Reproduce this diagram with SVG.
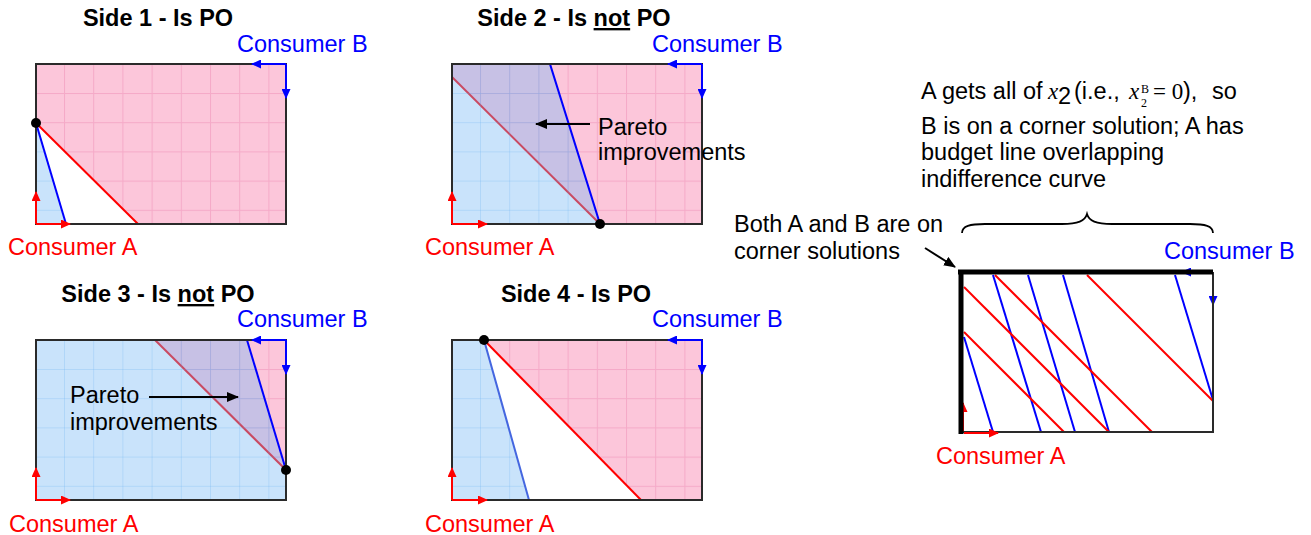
<svg xmlns="http://www.w3.org/2000/svg" width="1311" height="535" viewBox="0 0 1311 535">
<style>
.t{font-family:"Liberation Sans",Arial,sans-serif;font-size:23.5px;fill:#000}
.title{font-weight:bold;text-anchor:middle}
.ca{fill:#ff0000}
.cb{fill:#0000ff}
.box{fill:none;stroke:#2a2a2a;stroke-width:2}
.rl{stroke:#ff0000;stroke-width:2;fill:none}
.bl{stroke:#0000ff;stroke-width:2;fill:none}
.ra{stroke:#ff0000;stroke-width:2;fill:none;marker-end:url(#hr)}
.ba{stroke:#0000ff;stroke-width:2;fill:none;marker-end:url(#hb)}
.ka{stroke:#000;stroke-width:2;fill:none;marker-end:url(#hk)}
.pink{fill:url(#pinkGrid)}
.blue{fill:url(#blueGrid)}
.m{font-family:"Liberation Serif","Times New Roman",serif}
</style>
<defs>
<marker id="hr" markerUnits="userSpaceOnUse" markerWidth="10" markerHeight="9" refX="9" refY="4.5" orient="auto"><path d="M0,0 L10,4.5 L0,9 z" fill="#ff0000"/></marker>
<marker id="hb" markerUnits="userSpaceOnUse" markerWidth="10" markerHeight="9" refX="9" refY="4.5" orient="auto"><path d="M0,0 L10,4.5 L0,9 z" fill="#0000ff"/></marker>
<marker id="hk" markerUnits="userSpaceOnUse" markerWidth="12" markerHeight="10" refX="11" refY="5" orient="auto"><path d="M0,0 L12,5 L0,10 z" fill="#000"/></marker>
<pattern id="pinkGrid" patternUnits="userSpaceOnUse" x="28" y="29" width="29.2" height="29.2">
<rect width="29.2" height="29.2" fill="#fcc6da"/>
<rect width="1" height="29.2" fill="#f5aac8"/>
<rect width="29.2" height="1" fill="#f5aac8"/>
</pattern>
<pattern id="blueGrid" patternUnits="userSpaceOnUse" x="28" y="29" width="29.2" height="29.2">
<rect width="29.2" height="29.2" fill="#78b9f5" fill-opacity="0.4"/>
<rect width="1" height="29.2" fill="#5aa6f0" fill-opacity="0.22"/>
<rect width="29.2" height="1" fill="#5aa6f0" fill-opacity="0.22"/>
</pattern>
</defs>
<rect width="1311" height="535" fill="#fff"/>

<g id="side1" transform="translate(36,64)">
<text class="t title" x="122" y="-38">Side 1 - Is PO</text>
<text class="t cb" x="201" y="-12">Consumer B</text>
<polygon class="pink" points="0,0 250,0 250,160 102,160 0,59"/>
<polygon class="blue" points="0,59 30,160 0,160"/>
<line class="rl" x1="0" y1="59" x2="102" y2="160"/>
<line class="bl" x1="0" y1="59" x2="30" y2="160"/>
<rect class="box" width="250" height="160"/>
<path class="ra" d="M0,160 V128"/>
<path class="ra" d="M0,160 H34"/>
<path class="ba" d="M250,0 H216"/>
<path class="ba" d="M250,0 V34"/>
<circle cx="0" cy="59" r="5" fill="#000"/>
<text class="t ca" x="-28" y="191">Consumer A</text>
</g>

<g id="side2" transform="translate(452,64)">
<text class="t title" x="122" y="-38">Side 2 - Is <tspan text-decoration="underline">not</tspan> PO</text>
<text class="t cb" x="200" y="-12">Consumer B</text>
<polygon class="pink" points="0,0 250,0 250,160 148,160 0,13"/>
<line class="rl" x1="0" y1="13" x2="148" y2="160"/>
<polygon class="blue" points="0,0 98,0 148,160 0,160"/>
<line class="bl" x1="98" y1="0" x2="148" y2="160"/>
<rect class="box" width="250" height="160"/>
<path class="ra" d="M0,160 V128"/>
<path class="ra" d="M0,160 H35"/>
<path class="ba" d="M250,0 H216"/>
<path class="ba" d="M250,0 V34"/>
<circle cx="148" cy="160" r="5" fill="#000"/>
<text class="t" x="146" y="71">Pareto</text>
<text class="t" x="146" y="96">improvements</text>
<text class="t ca" x="-27" y="191">Consumer A</text>
</g>

<g id="side3" transform="translate(36,340)">
<text class="t title" x="122" y="-38">Side 3 - Is <tspan text-decoration="underline">not</tspan> PO</text>
<text class="t cb" x="201" y="-13">Consumer B</text>
<polygon class="pink" points="119,0 250,0 250,130"/>
<line class="rl" x1="119" y1="0" x2="250" y2="130"/>
<polygon class="blue" points="0,0 211,0 250,130 250,160 0,160"/>
<line class="bl" x1="211" y1="0" x2="250" y2="130"/>
<rect class="box" width="250" height="160"/>
<path class="ra" d="M0,160 V128"/>
<path class="ra" d="M0,160 H34"/>
<path class="ba" d="M250,0 H216"/>
<path class="ba" d="M250,0 V34"/>
<circle cx="250" cy="130" r="5" fill="#000"/>
<text class="t" x="34" y="63">Pareto</text>
<text class="t" x="34" y="90">improvements</text>
<text class="t ca" x="-27" y="192">Consumer A</text>
</g>

<g id="side4" transform="translate(452,340)">
<text class="t title" x="124" y="-38">Side 4 - Is PO</text>
<text class="t cb" x="200" y="-13">Consumer B</text>
<polygon class="pink" points="32,0 250,0 250,160 189,160"/>
<polygon class="blue" points="0,0 32,0 77,160 0,160"/>
<line class="rl" x1="32" y1="0" x2="189" y2="160"/>
<line x1="32" y1="0" x2="77" y2="160" stroke="#4466e0" stroke-width="2"/>
<rect class="box" width="250" height="160"/>
<path class="ra" d="M0,160 V128"/>
<path class="ra" d="M0,160 H35"/>
<path class="ba" d="M250,0 H216"/>
<path class="ba" d="M250,0 V34"/>
<circle cx="32" cy="0" r="5" fill="#000"/>
<text class="t ca" x="-27" y="192">Consumer A</text>
</g>

<g id="corner">
<g fill="none" stroke-width="2">
<line x1="964" y1="337" x2="993" y2="432" stroke="#0000ff"/>
<line x1="993" y1="275" x2="1041" y2="432" stroke="#0000ff"/>
<line x1="1028" y1="275" x2="1075" y2="432" stroke="#0000ff"/>
<line x1="1063" y1="275" x2="1109" y2="432" stroke="#0000ff"/>
<line x1="1175" y1="275" x2="1213" y2="400" stroke="#0000ff"/>
<line x1="964" y1="287" x2="1109" y2="432" stroke="#ff0000"/>
<line x1="995" y1="275" x2="1152" y2="432" stroke="#ff0000"/>
<line x1="964" y1="332" x2="1064" y2="432" stroke="#ff0000"/>
<line x1="1087" y1="275" x2="1213" y2="401" stroke="#ff0000"/>
</g>
<path class="ba" d="M1213,272 H1182"/>
<path class="ba" d="M1213,272 V305"/>
<path class="ra" d="M963,432 V403"/>
<line x1="961" y1="432" x2="1213" y2="432" stroke="#2a2a2a" stroke-width="2"/>
<line x1="1213" y1="272" x2="1213" y2="433" stroke="#2a2a2a" stroke-width="2"/>
<line x1="958" y1="272" x2="1213" y2="272" stroke="#000" stroke-width="5"/>
<line x1="961" y1="270" x2="961" y2="434" stroke="#000" stroke-width="5"/>
<path class="ra" d="M964,433 H998"/>
<text class="t cb" x="1164" y="259">Consumer B</text>
<text class="t ca" x="936" y="464">Consumer A</text>
</g>

<g id="brace">
<path d="M962,233 C962,226 970,224 985,224 L1062,224 C1078,224 1085,221 1087,214 C1089,221 1096,224 1112,224 L1190,224 C1205,224 1213,226 1213,233" fill="none" stroke="#000" stroke-width="1.8"/>
</g>

<g id="note-top">
<text class="t" x="921" y="99">A gets all of</text>
<text class="m" x="1048" y="99" font-size="23" font-style="italic">x</text>
<text class="t" x="1058" y="104" font-size="14.5">2</text>
<text class="t" x="1074" y="99">(i.e.,</text>
<text class="m" x="1129" y="99" font-size="23" font-style="italic">x</text>
<text class="m" x="1141" y="93" font-size="12">B</text>
<text class="m" x="1141" y="107" font-size="12">2</text>
<text class="m" x="1153" y="99" font-size="23">= 0</text>
<text class="t" x="1183" y="99">),</text>
<text class="t" x="1212" y="99">so</text>
<text class="t" x="921" y="134">B is on a corner solution; A has</text>
<text class="t" x="921" y="160">budget line overlapping</text>
<text class="t" x="921" y="187">indifference curve</text>
</g>

<g id="note-corner">
<text class="t" x="734" y="232">Both A and B are on</text>
<text class="t" x="734" y="259">corner solutions</text>
</g>

<g id="connectors">
<path class="ka" d="M590,124 H536"/>
<path class="ka" d="M149,397 H238"/>
<path class="ka" d="M925,248 L955,267"/>
</g>
</svg>
